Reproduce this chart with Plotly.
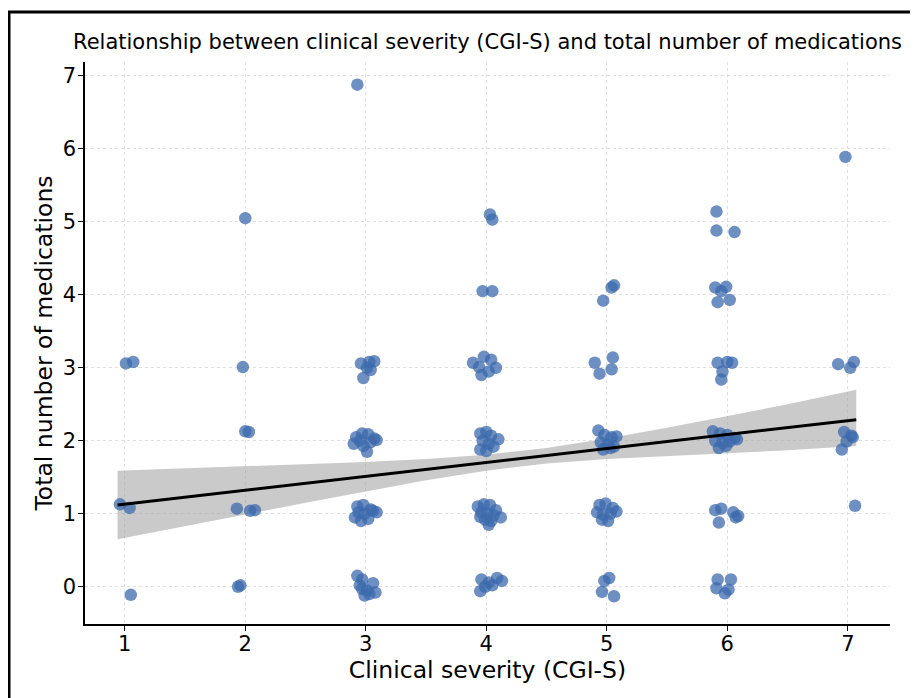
import plotly.graph_objects as go

# ---- data (jittered points as displayed) ----
sev_1 = [1.01, 1.07, 0.96, 1.04, 1.05]
med_1 = [3.06, 3.08, 1.13, 1.08, -0.11]

sev_2 = [2.00, 1.98, 2.00, 2.03, 1.93, 2.04, 2.08, 1.94, 1.96]
med_2 = [5.05, 3.01, 2.13, 2.12, 1.07, 1.04, 1.05, 0.00, 0.02]

sev_3 = [2.93,
         2.96, 3.03, 3.07, 2.98, 3.04, 3.01,
         2.92, 2.97, 3.02, 3.07, 2.90, 2.98, 3.04, 2.95, 3.01, 3.09,
         2.93, 2.98, 3.04, 3.09, 2.91, 2.96, 3.02, 2.99, 3.06, 2.94,
         2.93, 2.97, 2.95, 3.01, 3.06, 3.08, 2.99, 3.03, 2.97]
med_3 = [6.88,
         3.06, 3.08, 3.09, 2.86, 2.97, 3.00,
         2.05, 2.10, 2.09, 2.03, 1.96, 1.93, 1.98, 2.00, 1.85, 2.01,
         1.10, 1.12, 1.06, 1.02, 0.95, 0.90, 0.93, 1.00, 1.04, 1.02,
         0.15, 0.10, 0.02, -0.05, 0.05, -0.08, -0.12, -0.10, -0.03]

sev_4 = [4.03, 4.05,
         3.97, 4.05,
         3.89, 3.98, 4.04, 4.08, 4.02, 3.96, 3.94,
         3.95, 4.00, 4.04, 4.10, 3.97, 4.02, 3.95, 4.00, 4.06,
         3.93, 3.98, 4.03, 4.08, 3.96, 4.01, 4.06, 4.12, 3.99, 4.04, 3.95, 4.02,
         3.96, 4.02, 4.09, 4.13, 3.99, 4.05, 3.95]
med_4 = [5.10, 5.03,
         4.05, 4.05,
         3.07, 3.15, 3.11, 3.00, 2.95, 2.90, 3.01,
         2.10, 2.12, 2.07, 2.02, 2.00, 1.96, 1.88, 1.86, 1.92,
         1.10, 1.13, 1.12, 1.05, 1.02, 1.00, 0.98, 0.95, 0.92, 0.90, 0.96, 0.85,
         0.10, 0.06, 0.12, 0.08, 0.00, 0.02, -0.06]

sev_5 = [4.97, 5.04, 5.06,
         4.90, 4.94, 5.05, 5.04,
         4.93, 4.98, 5.04, 5.08, 4.95, 5.01, 5.06, 4.97, 5.03,
         4.94, 4.99, 5.05, 4.92, 4.97, 5.03, 5.08, 4.96, 5.01,
         4.98, 5.02, 4.96, 5.06]
med_5 = [3.92, 4.10, 4.13,
         3.07, 2.92, 3.14, 2.98,
         2.14, 2.08, 2.05, 2.06, 1.98, 1.95, 1.92, 1.88, 1.90,
         1.12, 1.14, 1.08, 1.02, 0.99, 1.00, 1.03, 0.92, 0.90,
         0.08, 0.12, -0.07, -0.13]

sev_6 = [5.91, 5.91, 6.06,
         5.90, 5.99, 5.92, 6.02, 5.95,
         5.92, 6.00, 5.96, 5.95, 6.04,
         5.88, 5.94, 6.00, 6.06, 5.90, 5.96, 6.02, 6.08, 5.93, 5.99,
         5.90, 5.95, 6.05, 6.09, 5.93, 6.07,
         5.92, 6.03, 5.91, 6.01, 5.98]
med_6 = [5.14, 4.88, 4.86,
         4.10, 4.11, 3.90, 3.93, 4.05,
         3.07, 3.08, 2.95, 2.84, 3.07,
         2.13, 2.10, 2.08, 2.04, 2.00, 1.97, 1.99, 2.02, 1.90, 1.93,
         1.05, 1.07, 1.02, 0.97, 0.88, 0.95,
         0.10, 0.10, -0.02, -0.04, -0.09]

sev_7 = [6.98, 6.92, 7.02, 7.05, 6.97, 7.03, 6.95, 6.99, 7.04, 7.06]
med_7 = [5.89, 3.05, 3.00, 3.08, 2.12, 2.07, 1.88, 1.99, 2.05, 1.11]

severity = sev_1 + sev_2 + sev_3 + sev_4 + sev_5 + sev_6 + sev_7
medications = med_1 + med_2 + med_3 + med_4 + med_5 + med_6 + med_7

# regression line and 95% confidence band
fit_x = [0.94, 1.5, 2.0, 2.5, 3.0, 3.5, 4.0, 4.5, 5.0, 5.5, 6.0, 6.5, 7.07]
fit_y = [1.12, 1.225, 1.32, 1.415, 1.51, 1.605, 1.70, 1.795, 1.89, 1.985, 2.08, 2.175, 2.29]
ci_upper = [1.59, 1.62, 1.65, 1.68, 1.71, 1.75, 1.81, 1.90, 2.03, 2.18, 2.34, 2.50, 2.70]
ci_lower = [0.65, 0.83, 0.99, 1.15, 1.31, 1.46, 1.59, 1.69, 1.75, 1.79, 1.83, 1.87, 1.93]

x_ticks = [1, 2, 3, 4, 5, 6, 7]
y_ticks = [0, 1, 2, 3, 4, 5, 6, 7]

fig = go.Figure()

fig.add_trace(go.Scatter(
    x=fit_x + fit_x[::-1], y=ci_upper + ci_lower[::-1],
    fill="toself", fillcolor="rgba(150,150,150,0.5)",
    line=dict(width=0), mode="lines", hoverinfo="skip", showlegend=False))

fig.add_trace(go.Scatter(
    x=severity, y=medications, mode="markers",
    marker=dict(size=12.5, color="rgba(60,106,172,0.75)", line=dict(width=0)),
    showlegend=False))

fig.add_trace(go.Scatter(
    x=[fit_x[0], fit_x[-1]], y=[fit_y[0], fit_y[-1]], mode="lines",
    line=dict(color="black", width=3), showlegend=False))

axis_font = dict(family="DejaVu Sans", size=21, color="black")
grid = dict(showgrid=True, gridcolor="#e0e0e0", gridwidth=1, griddash="3px,3px")

# page body has an 8px margin: figure coordinates are screen coordinates minus 8
L, R, T, B = 77, 36, 54, 82
W, H = 918, 698
pw, ph = W - L - R, H - T - B

fig.update_layout(
    width=W, height=H,
    paper_bgcolor="white", plot_bgcolor="white",
    margin=dict(l=L, r=R, t=T, b=B),
    title=dict(text="Relationship between clinical severity (CGI-S) and total number of medications",
               x=(L + pw / 2) / W, xanchor="center", y=1 - 34 / H, yanchor="middle",
               font=dict(family="DejaVu Sans", size=21, color="black")),
    xaxis=dict(range=[0.67, 7.35], tickvals=x_ticks, ticktext=[str(v) for v in x_ticks],
               showline=True, linecolor="black", linewidth=1.6, ticks="outside",
               ticklen=5, tickwidth=1.4, tickcolor="black", tickfont=axis_font,
               ticklabelstandoff=-5,
               zeroline=False, title=dict(text="Clinical severity (CGI-S)",
                                          font=dict(family="DejaVu Sans", size=23.5, color="black"),
                                          standoff=2), **grid),
    yaxis=dict(range=[-0.51, 7.19], tickvals=y_ticks, ticktext=[str(v) for v in y_ticks],
               showline=True, linecolor="black", linewidth=1.6, ticks="outside",
               ticklen=5, tickwidth=1.4, tickcolor="black", tickfont=axis_font,
               ticklabelstandoff=-2,
               zeroline=False, title=dict(text="Total number of medications",
                                          font=dict(family="DejaVu Sans", size=23.5, color="black"),
                                          standoff=3), **grid),
    shapes=[dict(type="rect", xref="paper", yref="paper",
                 x0=(1 - L) / pw, x1=(W + 40 - L) / pw,
                 y0=(H - B - (H + 60)) / ph, y1=(H - B - 4) / ph,
                 line=dict(color="black", width=3), fillcolor="rgba(0,0,0,0)")],
)

fig.write_html("out.html")
